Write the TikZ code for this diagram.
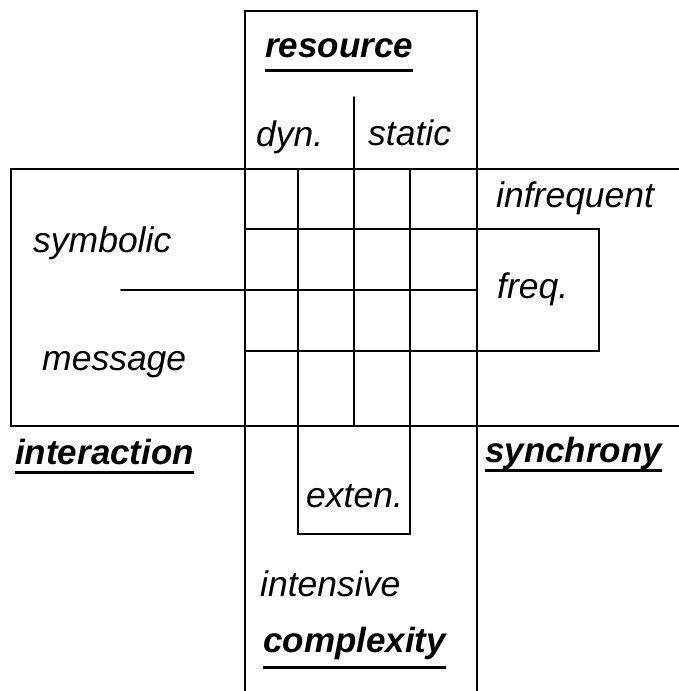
\documentclass[tikz,border=0pt]{standalone}
\usepackage{fontspec}
\setmainfont{Liberation Sans}
\begin{document}
\begin{tikzpicture}[x=1pt,y=-1pt,
  ln/.style={line width=2pt, line cap=round},
  lab/.style={inner sep=0pt, anchor=base west, font=\fontsize{35.5}{40}\selectfont\itshape},
  head/.style={inner sep=0pt, anchor=base west, font=\fontsize{35}{40}\selectfont\bfseries\itshape},
  ul/.style={line width=3pt}]
\useasboundingbox (0,0) rectangle (679,691);
% coordinates
\coordinate (cTL) at (245,11);
\coordinate (cTR) at (477,11);
\coordinate (cBL) at (245,691);
\coordinate (cBR) at (477,691);
\coordinate (bTL) at (11,169);
\coordinate (bTR) at (679,169);
\coordinate (bBL) at (11,426);
\coordinate (bBR) at (679,426);
% column
\draw[ln] (cBL) -- (cTL) -- (cTR) -- (cBR);
% band
\draw[ln] (bTR) -- (bTL) -- (bBL) -- (bBR);
% middle divider (dyn./static)
\coordinate (m1) at (354,97);
\coordinate (m2) at (354,426);
\draw[ln] (m1) -- (m2);
% exten. box
\coordinate (e1) at (298,169);
\coordinate (e2) at (298,534);
\coordinate (e3) at (410,534);
\coordinate (e4) at (410,169);
\draw[ln] (e1) -- (e2) -- (e3) -- (e4);
% freq. box
\coordinate (f1) at (245,229);
\coordinate (f2) at (599,229);
\coordinate (f3) at (599,351);
\coordinate (f4) at (245,351);
\draw[ln] (f1) -- (f2) -- (f3) -- (f4);
% symbolic/message divider
\coordinate (s1) at (121,290);
\coordinate (s2) at (477,290);
\draw[ln] (s1) -- (s2);
% labels
\node[head] (resource) at (265,57) {resource};
\node[lab] (dyn) at (256,146) {dyn.};
\node[lab] (static) at (368,145) {static};
\node[lab] (infreq) at (496,207) {infrequent};
\node[lab] (symb) at (33,252) {symbolic};
\node[lab] (freq) at (497,298) {freq.};
\node[lab] (msg) at (42,370) {message};
\node[head] (inter) at (15,464) {interaction};
\node[head] (sync) at (485,462) {synchrony};
\node[lab] (exten) at (306,507) {exten.};
\node[lab] (inten) at (260,596) {intensive};
\node[head] (compl) at (263,652) {complexity};
% underlines
\draw[ul] ([yshift=-13pt]resource.base west) -- ([yshift=-13pt]resource.base east);
\draw[ul] ([yshift=-8pt]inter.base west) -- ([yshift=-8pt]inter.base east);
\draw[ul] ([yshift=-8pt]sync.base west) -- ([yshift=-8pt]sync.base east);
\draw[ul] ([yshift=-15pt]compl.base west) -- ([yshift=-15pt]compl.base east);
\end{tikzpicture}
\end{document}
